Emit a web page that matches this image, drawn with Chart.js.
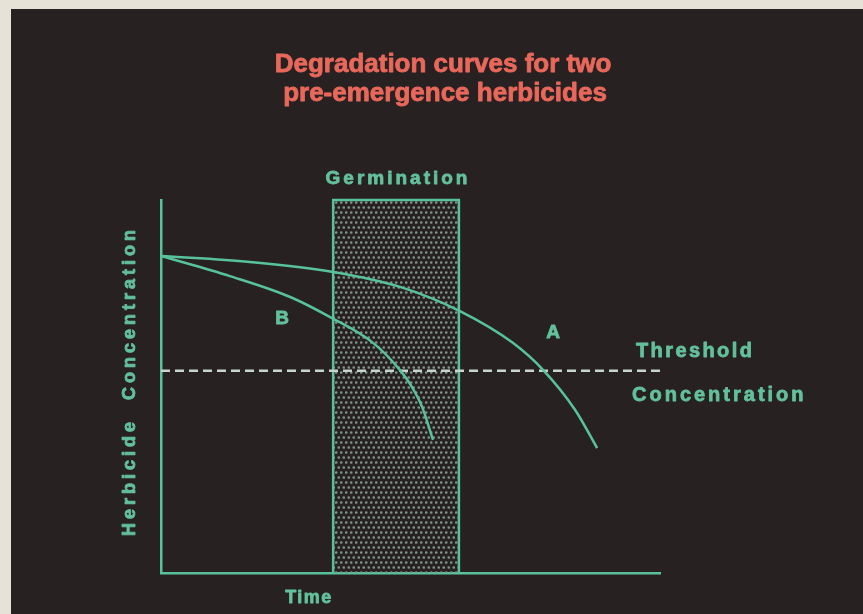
<!DOCTYPE html>
<html>
<head>
    <title>Degradation curves for two pre-emergence herbicides</title>
    <script src="https://cdn.jsdelivr.net/npm/chart.js"></script>
    <style>
        body { margin: 0; padding: 0; background: #e6e2d8; }
        #chart { display: block; }
    </style>
</head>
<body>
    <canvas id="chart" width="863" height="614"></canvas>
    <script>
        // Values (time and concentration on a 0-100 scale)
        const timeA = [0, 17.8, 34.5, 47.9, 59.9, 70.5, 76.6, 83.0, 87.4];
        const concA = [85.0, 83.4, 80.7, 76.7, 70.2, 61.7, 54.4, 43.7, 33.5];
        const timeB = [0, 13.8, 25.9, 33.9, 42.5, 47.9, 50.0, 52.3, 54.5];
        const concB = [85.0, 79.6, 74.0, 68.6, 61.7, 54.4, 50.5, 44.6, 35.7];
        const thresholdTime = [0, 100];
        const thresholdConc = 54.2;
        const germinationStart = 34.5;
        const germinationEnd = 59.7;

        const lineColor = '#58c29d';
        const textColor = '#63c09d';
        const bgColor = '#282122';

        const toPoints = (xs, ys) => xs.map((x, i) => ({ x: x, y: ys[i] }));

        // Dotted fill for the germination window (offset rows)
        const dots = (() => {
            const c = document.createElement('canvas');
            c.width = 5; c.height = 10;
            const g = c.getContext('2d');
            g.fillStyle = '#7f928a';
            g.beginPath();
            g.arc(1.25, 2.5, 1.35, 0, Math.PI * 2);
            g.arc(3.75, 7.5, 1.35, 0, Math.PI * 2);
            g.fill();
            return g.createPattern(c, 'repeat');
        })();

        // Slide frame + text
        const slidePlugin = {
            id: 'slide',
            beforeDraw(chart) {
                const ctx = chart.ctx;
                ctx.save();
                ctx.fillStyle = '#e6e2d8';
                ctx.fillRect(0, 0, chart.width, chart.height);
                ctx.fillStyle = bgColor;
                ctx.fillRect(11, 9, chart.width - 11, chart.height - 9);
                ctx.restore();
            },
            afterDraw(chart) {
                const ctx = chart.ctx;
                const x = chart.scales.x;
                const text = (str, px, py, size, spacing, color, align) => {
                    ctx.font = 'bold ' + size + 'px "Liberation Sans", Arial, sans-serif';
                    ctx.letterSpacing = spacing + 'px';
                    ctx.fillStyle = color;
                    ctx.strokeStyle = color;
                    ctx.lineWidth = 0.8;
                    ctx.lineJoin = 'round';
                    ctx.textAlign = align || 'center';
                    ctx.textBaseline = 'alphabetic';
                    ctx.fillText(str, px, py);
                    ctx.strokeText(str, px, py);
                };
                ctx.save();
                text('Degradation curves for two', 443, 72, 26, 0, '#e8685b');
                text('pre-emergence herbicides', 445, 101, 26, 0, '#e8685b');
                const gx = (x.getPixelForValue(germinationStart) + x.getPixelForValue(germinationEnd)) / 2;
                text('Germination', gx + 2, 184, 19, 3, textColor);
                text('Time', 309, 603, 18, 1.5, textColor);
                text('A', 553, 338, 19, 0, textColor);
                text('B', 282, 324, 19, 0, textColor);
                text('Threshold', 636, 357, 20, 2.4, textColor, 'left');
                text('Concentration', 632, 401, 20, 3, textColor, 'left');
                ctx.translate(135, 381);
                ctx.rotate(-Math.PI / 2);
                text('Herbicide  Concentration', 0, 0, 18, 4, textColor);
                ctx.restore();
            }
        };

        new Chart(document.getElementById('chart'), {
            type: 'scatter',
            data: {
                datasets: [
                    {
                        label: 'Germination',
                        data: [
                            { x: germinationStart, y: 0 },
                            { x: germinationStart, y: 100 },
                            { x: germinationEnd, y: 100 },
                            { x: germinationEnd, y: 0 }
                        ],
                        showLine: true,
                        borderColor: lineColor,
                        borderWidth: 2.5,
                        backgroundColor: dots,
                        fill: 'origin',
                        pointRadius: 0,
                        tension: 0,
                        clip: false,
                        order: 3
                    },
                    {
                        label: 'Threshold',
                        data: thresholdTime.map(t => ({ x: t, y: thresholdConc })),
                        showLine: true,
                        borderColor: '#c6d6ce',
                        borderWidth: 2.5,
                        borderDash: [9, 5],
                        pointRadius: 0,
                        order: 2
                    },
                    {
                        label: 'A',
                        data: toPoints(timeA, concA),
                        showLine: true,
                        borderColor: lineColor,
                        borderWidth: 2.5,
                        pointRadius: 0,
                        cubicInterpolationMode: 'monotone',
                        order: 1
                    },
                    {
                        label: 'B',
                        data: toPoints(timeB, concB),
                        showLine: true,
                        borderColor: lineColor,
                        borderWidth: 2.5,
                        pointRadius: 0,
                        cubicInterpolationMode: 'monotone',
                        order: 1
                    }
                ]
            },
            options: {
                responsive: false,
                animation: false,
                layout: { padding: { left: 161, right: 203, top: 200, bottom: 41 } },
                plugins: {
                    legend: { display: false },
                    title: { display: false },
                    tooltip: { enabled: false }
                },
                scales: {
                    x: {
                        type: 'linear',
                        min: 0,
                        max: 100,
                        grid: { display: false },
                        ticks: { display: false },
                        border: { display: true, color: lineColor, width: 2.5 },
                        afterFit: s => { s.height = 0; }
                    },
                    y: {
                        type: 'linear',
                        min: 0,
                        max: 100,
                        grid: { display: false },
                        ticks: { display: false },
                        border: { display: true, color: lineColor, width: 2.5 },
                        afterFit: s => { s.width = 0; }
                    }
                }
            },
            plugins: [slidePlugin]
        });
    </script>
</body>
</html>
